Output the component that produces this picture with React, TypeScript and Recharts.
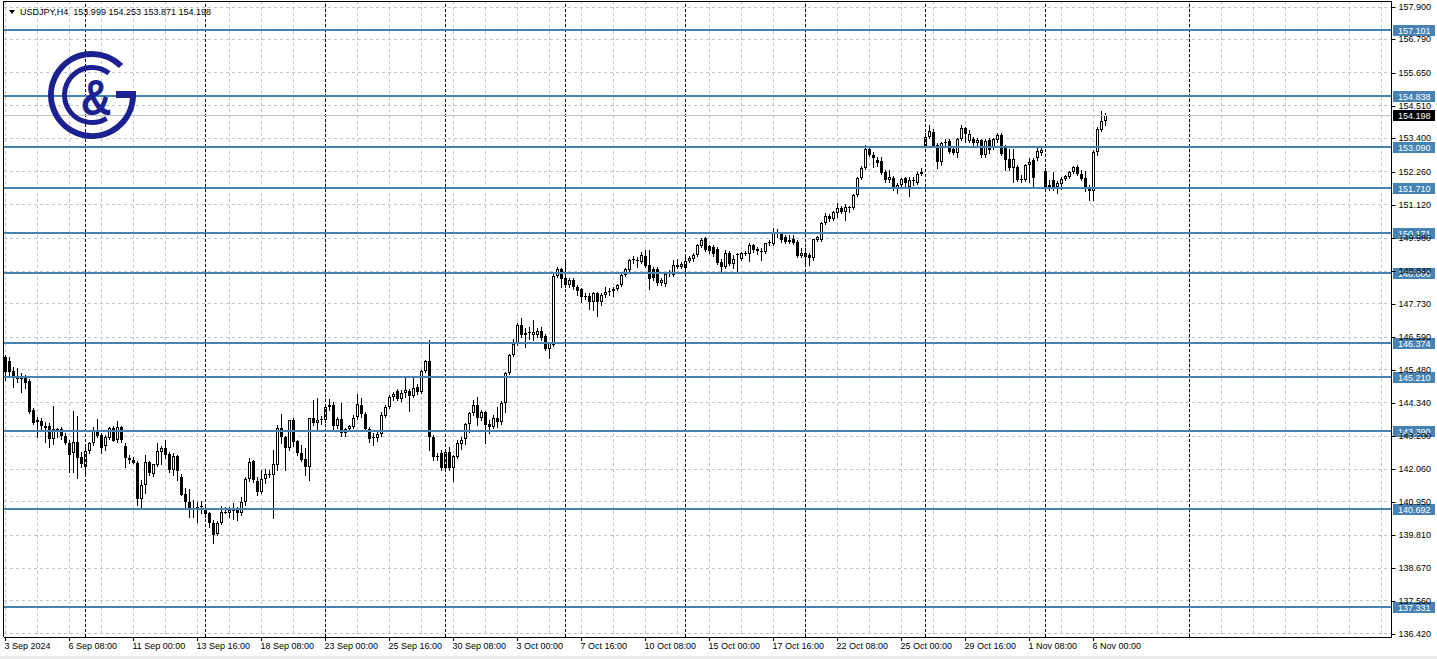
import React from 'react';
import { ComposedChart, Bar, XAxis, YAxis, CartesianGrid, ReferenceLine } from 'recharts';

const FONT = "'Liberation Sans', Arial, sans-serif";

// H4 candles, 3 Sep 16:00 .. 6 Nov 12:00
const opens = [
  145.91, 145.77, 145.43, 145.22, 145.19, 145.22, 145.09, 144.09, 143.75, 143.72,
  143.55, 143.55, 143.10, 143.44, 143.44, 143.20, 142.97, 142.62, 143.00, 142.48,
  142.14, 142.69, 142.97, 143.38, 143.24, 142.86, 143.13, 143.48, 143.07, 143.51,
  142.86, 142.45, 142.38, 142.28, 141.05, 141.52, 142.31, 141.90, 142.21, 142.66,
  142.79, 142.59, 142.04, 142.52, 141.80, 141.22, 140.94, 140.74, 140.74, 140.77,
  140.74, 140.56, 140.22, 139.85, 140.22, 140.60, 140.56, 140.63, 140.70, 140.56,
  140.94, 141.73, 142.35, 141.66, 141.29, 141.73, 141.90, 141.87, 142.21, 143.48,
  143.17, 142.79, 143.75, 143.03, 142.62, 142.42, 142.14, 143.82, 143.65, 143.75,
  143.75, 144.20, 144.27, 143.55, 143.79, 143.31, 143.44, 143.51, 143.86, 144.27,
  143.96, 143.44, 143.17, 143.13, 143.27, 143.89, 144.20, 144.54, 144.75, 144.47,
  144.68, 144.75, 144.58, 144.88, 144.71, 145.43, 145.77, 143.17, 142.52, 142.62,
  142.11, 142.66, 142.11, 142.48, 142.93, 143.10, 143.62, 143.99, 144.27, 143.82,
  144.03, 143.62, 143.51, 143.82, 143.68, 144.33, 145.36, 145.98, 146.36, 147.01,
  146.66, 146.73, 146.66, 146.66, 146.80, 146.63, 146.18, 146.32, 148.68, 148.92,
  148.62, 148.38, 148.55, 148.31, 148.24, 148.00, 148.00, 147.79, 148.10, 147.79,
  148.03, 148.14, 148.17, 148.24, 148.38, 148.72, 148.89, 149.27, 149.23, 149.16,
  149.37, 149.06, 148.92, 148.92, 148.45, 148.41, 148.76, 148.72, 149.06, 148.99,
  148.96, 149.20, 149.27, 149.40, 149.71, 149.99, 149.71, 149.68, 149.61, 149.16,
  148.99, 149.47, 149.09, 149.40, 149.27, 149.47, 149.44, 149.75, 149.61, 149.54,
  149.51, 149.81, 149.78, 150.19, 150.16, 150.02, 149.85, 149.95, 149.85, 149.37,
  149.47, 149.40, 149.30, 149.92, 149.92, 150.50, 150.74, 150.64, 150.84, 151.01,
  150.88, 151.01, 151.01, 151.46, 152.04, 152.39, 153.04, 152.83, 152.66, 152.62,
  152.25, 151.97, 152.04, 151.67, 151.80, 152.04, 151.73, 151.94, 151.87, 152.18,
  153.14, 153.45, 153.62, 153.17, 152.59, 153.27, 153.31, 153.03, 152.90, 153.38,
  153.75, 153.31, 153.38, 153.24, 153.34, 152.83, 153.34, 153.07, 153.34, 153.51,
  153.07, 152.69, 152.39, 152.42, 152.01, 151.97, 152.49, 152.66, 152.73, 152.90,
  152.28, 151.73, 151.97, 151.73, 151.84, 152.01, 152.08, 152.25, 152.42, 152.18,
  152.04, 151.73, 151.60, 152.93, 153.69, 153.999,
];
const highs = [
  145.98, 145.91, 145.57, 145.53, 145.36, 145.29, 145.16, 144.16, 143.86, 143.82,
  143.68, 143.65, 144.23, 143.48, 143.51, 143.31, 143.07, 144.06, 143.89, 142.66,
  142.83, 143.00, 143.51, 143.79, 143.31, 143.24, 143.51, 143.55, 143.72, 143.55,
  142.97, 142.55, 142.48, 142.35, 141.70, 142.55, 142.35, 142.04, 142.97, 142.86,
  143.07, 142.66, 142.62, 142.55, 141.90, 141.42, 141.39, 141.01, 140.94, 140.98,
  140.77, 140.60, 140.33, 140.29, 140.81, 140.77, 140.77, 140.91, 140.77, 141.11,
  141.80, 142.45, 142.38, 141.80, 142.04, 142.07, 142.04, 142.72, 143.58, 143.96,
  143.20, 143.75, 143.82, 143.07, 142.90, 142.79, 143.82, 144.44, 144.51, 143.89,
  144.23, 144.47, 144.37, 143.86, 144.33, 143.48, 143.58, 143.92, 144.65, 144.51,
  144.03, 143.51, 143.31, 143.41, 144.03, 144.27, 144.61, 144.71, 144.82, 144.78,
  145.19, 144.82, 145.22, 144.99, 145.47, 145.81, 146.49, 143.24, 142.62, 142.72,
  142.72, 142.83, 142.55, 143.07, 143.17, 143.65, 144.03, 144.44, 144.54, 144.09,
  144.06, 143.75, 143.92, 144.20, 144.40, 145.40, 146.01, 146.53, 147.07, 147.25,
  146.90, 146.94, 147.18, 146.90, 146.94, 146.70, 146.42, 148.82, 149.01, 148.96,
  149.23, 148.62, 148.62, 148.38, 148.27, 148.10, 148.10, 148.14, 148.14, 148.10,
  148.31, 148.27, 148.31, 148.41, 148.76, 148.96, 149.27, 149.37, 149.33, 149.51,
  149.58, 149.58, 148.99, 148.99, 148.62, 148.79, 148.89, 149.23, 149.27, 149.16,
  149.37, 149.37, 149.47, 149.78, 149.99, 150.02, 149.75, 149.75, 149.68, 149.27,
  149.58, 149.54, 149.40, 149.47, 149.51, 149.54, 149.81, 149.78, 149.68, 149.64,
  149.81, 149.92, 150.33, 150.29, 150.19, 150.09, 150.09, 150.09, 149.92, 149.64,
  149.64, 149.47, 149.95, 150.05, 150.53, 150.84, 150.81, 150.91, 151.18, 151.08,
  151.15, 151.08, 151.49, 152.08, 152.45, 153.17, 153.10, 152.93, 152.76, 152.76,
  152.32, 152.32, 152.11, 151.87, 152.04, 152.08, 152.08, 152.08, 152.25, 152.39,
  153.58, 153.86, 153.72, 153.24, 153.27, 153.38, 153.38, 153.10, 153.41, 153.86,
  153.79, 153.69, 153.45, 153.41, 153.38, 153.38, 153.41, 153.41, 153.58, 153.58,
  153.17, 153.03, 153.03, 152.49, 152.15, 152.52, 152.73, 152.73, 153.07, 153.10,
  152.39, 151.97, 152.25, 151.94, 152.08, 152.15, 152.28, 152.45, 152.49, 152.32,
  152.28, 151.80, 153.00, 153.79, 154.34, 154.253,
];
const lows = [
  145.12, 145.22, 144.88, 145.05, 144.71, 144.85, 143.99, 143.62, 143.17, 143.41,
  143.00, 142.83, 142.93, 143.17, 143.10, 142.93, 141.97, 141.97, 141.76, 142.14,
  141.94, 142.62, 142.90, 143.17, 142.62, 142.72, 143.10, 143.03, 143.00, 143.00,
  142.14, 142.28, 142.28, 140.84, 140.70, 141.25, 141.87, 141.83, 142.18, 142.24,
  142.45, 141.97, 141.87, 141.70, 141.18, 140.70, 140.43, 140.43, 140.26, 140.56,
  140.43, 140.09, 139.54, 139.81, 140.19, 140.56, 140.43, 140.36, 140.33, 140.50,
  140.84, 141.66, 141.63, 141.18, 141.25, 141.59, 141.80, 140.39, 142.04, 142.96,
  142.04, 142.72, 142.86, 142.55, 142.35, 141.87, 141.70, 143.58, 143.44, 143.62,
  143.68, 144.09, 143.41, 143.48, 143.20, 143.20, 143.38, 143.48, 143.79, 143.86,
  143.38, 143.00, 142.90, 143.03, 143.20, 143.86, 144.16, 144.44, 144.44, 144.40,
  144.54, 144.06, 144.54, 144.64, 144.68, 145.40, 142.72, 142.38, 142.38, 142.04,
  142.04, 142.04, 141.66, 142.45, 142.76, 142.93, 143.34, 143.92, 143.58, 143.75,
  142.96, 143.31, 143.48, 143.51, 143.62, 144.03, 145.33, 145.94, 146.32, 146.60,
  146.25, 146.53, 146.49, 146.60, 146.49, 146.15, 145.87, 146.29, 148.65, 148.31,
  148.31, 148.31, 148.24, 148.03, 147.79, 147.90, 147.55, 147.52, 147.31, 147.69,
  147.97, 148.03, 148.00, 148.21, 148.34, 148.69, 148.82, 149.13, 149.01, 149.13,
  149.01, 148.24, 148.55, 148.38, 148.38, 148.34, 148.69, 148.69, 148.96, 148.96,
  148.92, 149.16, 149.20, 149.37, 149.68, 149.54, 149.47, 149.37, 149.10, 148.79,
  148.96, 149.06, 148.96, 148.86, 149.23, 149.40, 149.20, 149.51, 149.44, 149.23,
  149.47, 149.75, 149.75, 150.02, 149.85, 149.81, 149.81, 149.78, 149.33, 149.33,
  149.13, 149.06, 149.23, 149.88, 149.88, 150.47, 150.57, 150.60, 150.71, 150.84,
  150.60, 150.88, 150.98, 151.43, 152.01, 152.35, 152.80, 152.42, 152.45, 152.18,
  151.90, 151.90, 151.63, 151.53, 151.77, 151.70, 151.43, 151.80, 151.84, 152.15,
  153.10, 153.41, 153.10, 152.39, 152.49, 153.17, 152.90, 152.86, 152.76, 153.34,
  153.27, 153.27, 153.17, 153.10, 152.76, 152.76, 152.90, 153.03, 153.27, 152.83,
  152.32, 152.32, 151.90, 151.94, 151.90, 151.94, 151.90, 151.73, 152.66, 152.83,
  151.70, 151.63, 151.63, 151.53, 151.67, 151.97, 152.04, 152.21, 152.15, 151.97,
  151.60, 151.29, 151.29, 152.83, 153.65, 153.871,
];
const closes = [
  145.40, 145.40, 145.19, 145.16, 145.17, 145.02, 144.03, 143.65, 143.68, 143.55,
  143.48, 143.10, 143.44, 143.41, 143.20, 142.97, 142.55, 143.00, 142.45, 142.24,
  142.69, 142.97, 143.41, 143.20, 142.79, 143.17, 143.48, 143.03, 143.51, 143.07,
  142.45, 142.38, 142.28, 141.05, 141.52, 142.31, 141.94, 142.24, 142.69, 142.79,
  142.55, 142.04, 142.52, 142.00, 141.18, 140.94, 140.70, 140.70, 140.77, 140.81,
  140.53, 140.22, 139.81, 140.22, 140.60, 140.56, 140.67, 140.70, 140.56, 140.94,
  141.73, 142.31, 141.70, 141.29, 141.73, 141.90, 141.87, 142.24, 143.48, 143.17,
  142.79, 143.75, 143.00, 142.62, 142.38, 142.14, 143.82, 143.65, 143.75, 143.79,
  144.20, 144.27, 143.55, 143.79, 143.31, 143.44, 143.55, 143.82, 144.30, 143.96,
  143.44, 143.10, 143.13, 143.27, 143.92, 144.20, 144.54, 144.64, 144.47, 144.68,
  144.78, 144.58, 144.85, 144.71, 145.43, 145.77, 143.17, 142.48, 142.48, 142.11,
  142.66, 142.11, 142.52, 142.97, 143.07, 143.62, 143.99, 144.27, 143.82, 144.03,
  143.58, 143.51, 143.82, 143.68, 144.33, 145.36, 145.98, 146.36, 147.01, 146.66,
  146.73, 146.77, 146.77, 146.80, 146.56, 146.18, 146.39, 148.68, 148.92, 148.58,
  148.38, 148.55, 148.31, 148.17, 147.97, 147.97, 147.79, 148.10, 147.79, 148.03,
  148.14, 148.17, 148.24, 148.38, 148.72, 148.92, 149.23, 149.23, 149.20, 149.40,
  149.03, 148.58, 148.62, 148.45, 148.55, 148.76, 148.79, 149.06, 148.99, 149.09,
  149.20, 149.30, 149.40, 149.75, 149.92, 149.58, 149.54, 149.44, 149.13, 148.99,
  149.47, 149.09, 149.27, 149.44, 149.47, 149.47, 149.75, 149.58, 149.54, 149.51,
  149.81, 149.85, 150.16, 150.12, 149.92, 149.85, 149.92, 149.81, 149.37, 149.47,
  149.33, 149.30, 149.95, 150.02, 150.50, 150.74, 150.64, 150.88, 151.01, 150.88,
  151.05, 151.05, 151.46, 152.04, 152.39, 153.04, 152.83, 152.73, 152.56, 152.21,
  151.97, 152.08, 151.67, 151.80, 152.01, 151.87, 151.97, 151.97, 152.18, 152.25,
  153.45, 153.65, 153.14, 152.59, 153.24, 153.27, 152.93, 152.90, 153.38, 153.75,
  153.55, 153.55, 153.24, 153.34, 152.83, 153.31, 153.00, 153.38, 153.51, 152.86,
  152.66, 152.39, 152.69, 151.97, 151.97, 152.49, 152.59, 152.04, 152.97, 153.00,
  151.73, 151.80, 151.73, 151.87, 152.01, 152.11, 152.25, 152.42, 152.18, 152.01,
  151.67, 151.60, 152.93, 153.72, 154.00, 154.198,
];

// chart shows 347 bar slots, the rest is empty space to the right
const SLOTS = 347;

const dateTickIdx = [0, 16, 32, 48, 64, 80, 96, 112, 128, 144, 160, 176, 192, 208, 224, 240, 256, 272];
const dateTickLabels = [
  '3 Sep 2024', '6 Sep 08:00', '11 Sep 00:00', '13 Sep 16:00', '18 Sep 08:00', '23 Sep 00:00',
  '25 Sep 16:00', '30 Sep 08:00', '3 Oct 00:00', '7 Oct 16:00', '10 Oct 08:00', '15 Oct 00:00',
  '17 Oct 16:00', '22 Oct 08:00', '25 Oct 00:00', '29 Oct 16:00', '1 Nov 08:00', '6 Nov 00:00',
];
const weekStarts = [20, 50, 80, 110, 140, 170, 200, 230, 260, 296];

const priceTicks = [
  157.9, 156.79, 155.65, 154.51, 153.4, 152.26, 151.12, 149.98, 148.84, 147.73,
  146.59, 145.48, 144.34, 143.2, 142.06, 140.95, 139.81, 138.67, 137.56, 136.42,
];
const levels = [157.101, 154.838, 153.09, 151.71, 150.171, 148.8, 146.374, 145.21, 143.39, 140.692, 137.331];
const lastPrice = 154.198;

const rows = Array.from({ length: SLOTS }, (_, i) =>
  i < closes.length
    ? { i, range: [lows[i], highs[i]], open: opens[i], high: highs[i], low: lows[i], close: closes[i] }
    : { i },
);

const labelByIdx: Record<number, string> = {};
dateTickIdx.forEach((idx, k) => { labelByIdx[idx] = dateTickLabels[k]; });

const gridTicks: number[] = [];
for (let i = 0; i < SLOTS; i += 8) gridTicks.push(i);

function Candle(props: any) {
  const { x, y, width, height, payload } = props;
  if (!payload || payload.open == null) return null;
  const top = Math.min(y, y + height);
  const h = Math.abs(height);
  const span = payload.high - payload.low;
  const yOf = (p: number) => (span > 0 ? top + ((payload.high - p) / span) * h : top);
  const col = Math.floor(x + width / 2);
  const yH = Math.round(yOf(payload.high));
  const yL = Math.round(yOf(payload.low));
  const b1 = Math.round(Math.min(yOf(payload.open), yOf(payload.close)));
  const b2 = Math.round(Math.max(yOf(payload.open), yOf(payload.close)));
  const bull = payload.close > payload.open;
  return (
    <g shapeRendering="crispEdges">
      <line x1={col + 0.5} x2={col + 0.5} y1={yH} y2={yL + 1} stroke="#000" />
      {b2 - b1 < 2 ? (
        <rect x={col - 1} y={b1} width={3} height={Math.max(1, b2 - b1)} fill="#000" />
      ) : bull ? (
        <rect x={col - 0.5} y={b1 + 0.5} width={2} height={b2 - b1 - 1} fill="#fff" stroke="#000" />
      ) : (
        <rect x={col - 1} y={b1} width={3} height={b2 - b1} fill="#000" />
      )}
    </g>
  );
}

function PriceTick(props: any) {
  const { x, y, payload } = props;
  return (
    <g>
      <line x1={x} x2={x + 4} y1={Math.round(y) + 0.5} y2={Math.round(y) + 0.5} stroke="#000" />
      <text x={x + 7} y={y + 3} fontSize={9} fontFamily={FONT} fill="#000">
        {payload.value.toFixed(3)}
      </text>
    </g>
  );
}

function DateTick(props: any) {
  const { x, y, payload } = props;
  const label = labelByIdx[payload.value];
  if (!label) return null;
  return (
    <g>
      <line x1={x} x2={x} y1={y} y2={y + 4} stroke="#000" />
      <text x={x - 1} y={y + 12} fontSize={9} fontFamily={FONT} fill="#000">
        {label}
      </text>
    </g>
  );
}

function PriceTag(props: any) {
  const { viewBox, text, bg } = props;
  if (!viewBox) return null;
  const right = Math.round(viewBox.x + viewBox.width);
  const yy = Math.round(viewBox.y);
  return (
    <g>
      <rect x={right + 1} y={yy - 5} width={42} height={11} fill={bg} />
      <text x={right + 6} y={yy + 3.5} fontSize={9} fontFamily={FONT} fill="#fff">
        {text}
      </text>
    </g>
  );
}

function Logo() {
  const navy = '#1b2190';
  return (
    <svg width={160} height={160} style={{ position: 'absolute', left: 0, top: 0, pointerEvents: 'none' }}>
      <path d="M121,66 A41,41 0 1 0 133,95" fill="none" stroke={navy} strokeWidth={6} />
      <rect x={116} y={91} width={20} height={7} fill={navy} />
      <path d="M108.9,73.3 A27.5,27.5 0 1 0 106.6,118.3" fill="none" stroke={navy} strokeWidth={5} />
      <text
        x={0}
        y={0}
        fontSize={50}
        fontWeight="bold"
        fontFamily={FONT}
        fill={navy}
        textAnchor="middle"
        transform="translate(96,115) scale(0.85,1)"
      >
        &amp;
      </text>
    </svg>
  );
}

export default function App() {
  return (
    <div style={{ position: 'relative', width: 1437, height: 659, background: '#fff', overflow: 'hidden' }}>
      <style>{`
        body { margin: 0; }
        .recharts-cartesian-grid line, .recharts-reference-line line, .recharts-cartesian-axis-line { shape-rendering: crispEdges; }
      `}</style>
      <ComposedChart
        width={1437}
        height={659}
        data={rows}
        margin={{ top: 1, right: 0, bottom: 0, left: 3.5 }}
        barCategoryGap={0}
        barGap={0}
      >
        <CartesianGrid stroke="#c4c4c4" strokeDasharray="3 3" />
        <XAxis
          dataKey="i"
          type="category"
          ticks={gridTicks}
          interval={0}
          tick={<DateTick />}
          tickSize={0}
          tickMargin={0}
          tickLine={false}
          axisLine={{ stroke: '#000' }}
          height={22}
        />
        <YAxis
          orientation="right"
          type="number"
          domain={[136.317, 158.106]}
          allowDataOverflow
          ticks={priceTicks}
          interval={0}
          tick={<PriceTick />}
          tickSize={0}
          tickMargin={0}
          tickLine={false}
          axisLine={{ stroke: '#000' }}
          width={45.5}
        />
        {weekStarts.map((w) => (
          <ReferenceLine key={w} x={w} stroke="#000" strokeDasharray="3 2" />
        ))}
        <ReferenceLine
          y={lastPrice}
          stroke="#c0c0c0"
          label={<PriceTag text={lastPrice.toFixed(3)} bg="#000" />}
        />
        <Bar dataKey="range" isAnimationActive={false} shape={(p: any) => <Candle {...p} />} />
        {levels.map((v) => (
          <ReferenceLine
            key={v}
            y={v}
            stroke="#4682b4"
            strokeWidth={2}
            label={<PriceTag text={v.toFixed(3)} bg="#4682b4" />}
          />
        ))}
      </ComposedChart>
      <div style={{ position: 'absolute', left: 3, top: 1, width: 1, height: 636, background: '#000' }} />
      <div style={{ position: 'absolute', left: 3, top: 1, width: 1389, height: 1, background: '#000' }} />
      <div style={{ position: 'absolute', left: 0, top: 656, width: 1437, height: 3, background: '#ececec' }} />
      <svg width={320} height={20} style={{ position: 'absolute', left: 0, top: 0, pointerEvents: 'none' }}>
        <polygon points="9,10 15,10 12,14" fill="#000" />
        <text x={20} y={15} fontSize={9} fontFamily={FONT} fill="#000" style={{ whiteSpace: 'pre' }}>
          {'USDJPY,H4  153.999 154.253 153.871 154.198'}
        </text>
      </svg>
      <Logo />
    </div>
  );
}
